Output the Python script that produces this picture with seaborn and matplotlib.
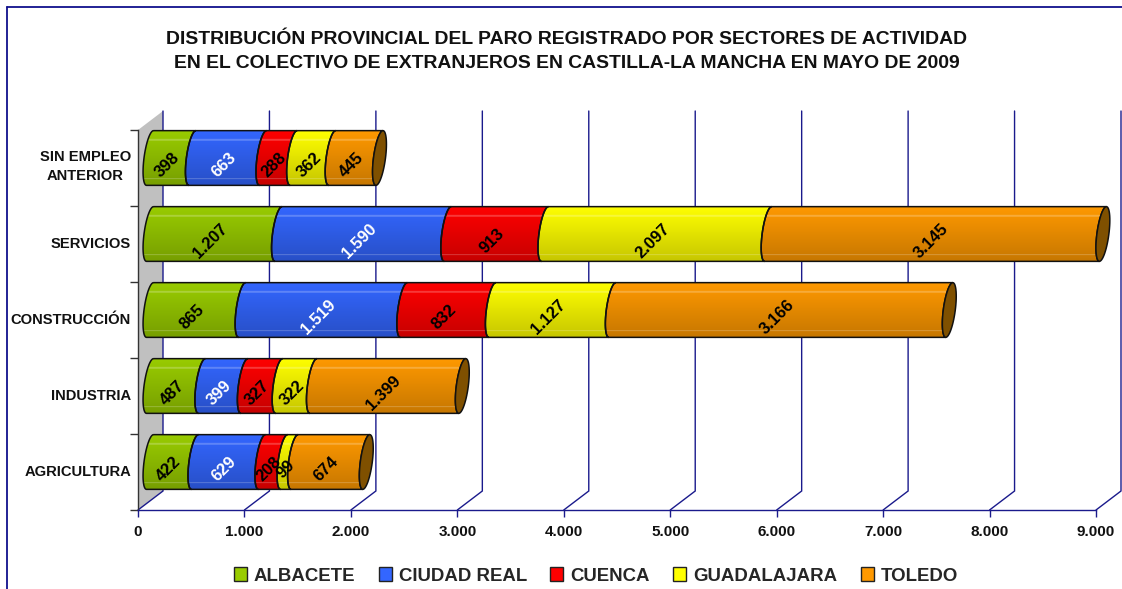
import numpy as np
import pandas as pd
import matplotlib
matplotlib.use("Agg")
import matplotlib.pyplot as plt
from matplotlib.lines import Line2D
from matplotlib.patches import Patch, PathPatch, Polygon
from matplotlib.path import Path
from matplotlib.colors import to_rgb
from matplotlib.ticker import FuncFormatter
import seaborn as sns

categories = ["SIN EMPLEO\nANTERIOR", "SERVICIOS", "CONSTRUCCIÓN", "INDUSTRIA", "AGRICULTURA"]
albacete = [398, 1207, 865, 487, 422]
ciudad_real = [663, 1590, 1519, 399, 629]
cuenca = [288, 913, 832, 327, 208]
guadalajara = [362, 2097, 1127, 322, 99]
toledo = [445, 3145, 3166, 1399, 674]
series_names = ["ALBACETE", "CIUDAD REAL", "CUENCA", "GUADALAJARA", "TOLEDO"]
series_values = [albacete, ciudad_real, cuenca, guadalajara, toledo]
colors = ["#99CC00", "#3366FF", "#FF0000", "#FFFF00", "#FF9900"]
label_colors = ["black", "white", "black", "black", "black"]
title = ("DISTRIBUCIÓN PROVINCIAL DEL PARO REGISTRADO POR SECTORES DE ACTIVIDAD\n"
         "EN EL COLECTIVO DE EXTRANJEROS EN CASTILLA-LA MANCHA EN MAYO DE 2009")

W, H = 1122, 589
sns.set_theme(style="white")
plt.rcParams["font.family"] = ["Liberation Sans", "DejaVu Sans"]
plt.rcParams["font.weight"] = "bold"
fig = plt.figure(figsize=(W / 100, H / 100), dpi=100, facecolor="white")
ax = fig.add_axes([138 / W, 1 - 510 / H, 958 / W, 380 / H], facecolor="none")

NAVY = "#1a1a8c"
PX_X = 958 / 9000
PX_Y = 76.0
DEPTH_X, DEPTH_Y = 25 / PX_X, -19 / PX_Y
BAR_DX, BAR_DY = 12 / PX_X, -10 / PX_Y
ELL_A, ELL_S = 6 / PX_X, 3.5 / PX_X

# stacked bars through seaborn: cumulative totals, longest first
cum = np.cumsum(np.array(series_values), axis=0)
for i in range(len(series_names) - 1, -1, -1):
    df = pd.DataFrame({"cat": categories, "v": cum[i]})
    sns.barplot(data=df, x="v", y="cat", orient="h", order=categories, color=colors[i],
                width=0.72, ax=ax, saturation=1, legend=False)

ax.set_xlim(0, 9000)
ax.set_ylim(4.5, -0.5)

# wall and wall grid lines
ax.add_patch(Polygon([(0, 4.5), (DEPTH_X, 4.5 + DEPTH_Y), (DEPTH_X, -0.5 + DEPTH_Y), (0, -0.5)],
                     closed=True, fc="#C0C0C0", ec="none", zorder=0.5, clip_on=False))
for v in range(0, 10000, 1000):
    ax.plot([v, v + DEPTH_X, v + DEPTH_X], [4.5, 4.5 + DEPTH_Y, -0.5 + DEPTH_Y], color=NAVY,
            lw=1.0, zorder=0.8, clip_on=False, solid_joinstyle="miter")


def shape(x0, x1, y0, y1, n=30):
    t = np.linspace(0, np.pi, n)
    cy, hh = (y0 + y1) / 2, (y1 - y0) / 2
    lx = x0 - ELL_A * np.sin(t) + ELL_S * np.cos(t)
    ly = cy - hh * np.cos(t)
    rx = x1 - ELL_A * np.sin(t[::-1]) + ELL_S * np.cos(t[::-1])
    ry = cy - hh * np.cos(t[::-1])
    return np.r_[np.c_[lx, ly], np.c_[rx, ry], [[lx[0], ly[0]]]]


def gradient(c):
    rgb = np.array(to_rgb(c))
    rows = np.linspace(1.0, 0.78, 56)[:, None] * rgb
    lift = np.zeros(56)
    lift[[9, 10, 49]] = 0.22
    rows = rows + (1 - rows) * lift[:, None]
    return rows[None, :, :].transpose(1, 0, 2)


containers = list(ax.containers)[::-1]  # back to series order
for s, cont in enumerate(containers):
    for c, bar in enumerate(cont.patches):
        bar.set_visible(False)
        x1 = bar.get_width() + BAR_DX
        x0 = BAR_DX if s == 0 else containers[s - 1].patches[c].get_width() + BAR_DX
        y0 = bar.get_y() + BAR_DY
        y1 = y0 + bar.get_height()
        verts = shape(x0, x1, y0, y1)
        patch = PathPatch(Path(verts), fc="none", ec="#111111", lw=1.1, zorder=3, clip_on=False)
        ax.add_patch(patch)
        im = ax.imshow(gradient(colors[s]), extent=(x0 - 2 * ELL_A, x1 + 2 * ELL_S, y1, y0),
                       aspect="auto", origin="upper", zorder=2.5, interpolation="bilinear")
        im.set_clip_path(patch)
        im.set_clip_box(fig.bbox)
        if s == len(containers) - 1:
            t = np.linspace(0, 2 * np.pi, 60)
            cy, hh = (y0 + y1) / 2, (y1 - y0) / 2
            ex = x1 - ELL_A * np.sin(t) + ELL_S * np.cos(t)
            ey = cy - hh * np.cos(t)
            ax.add_patch(Polygon(np.c_[ex, ey], closed=True, fc="#7F5000", ec="#111111",
                                 lw=1.1, zorder=3.2, clip_on=False))
        value = series_values[s][c]
        ax.text((x0 + x1) / 2 - 4 / PX_X, (y0 + y1) / 2 + 7 / PX_Y, f"{value:,}".replace(",", "."),
                rotation=45, rotation_mode="anchor", ha="center", va="center",
                color=label_colors[s], fontsize=12, fontweight="bold", zorder=5)

ax.set_xlim(0, 9000)
ax.set_ylim(4.5, -0.5)
ax.set_xlabel("")
ax.set_ylabel("")
ax.grid(False)
for side in ("top", "right"):
    ax.spines[side].set_visible(False)
ax.spines["bottom"].set_color(NAVY)
ax.spines["bottom"].set_linewidth(1.0)
ax.spines["left"].set_color("#333333")
ax.spines["left"].set_linewidth(1.0)

ax.set_xticks(np.arange(0, 10000, 1000))
ax.xaxis.set_major_formatter(FuncFormatter(lambda v, _: f"{int(v):,}".replace(",", ".")))
ax.tick_params(axis="x", bottom=True, length=5, width=1, color=NAVY, pad=6, labelsize=11)
ax.set_yticks(np.arange(len(categories)) - np.array([0.07, 0.026, 0.026, 0.026, 0.026]))
ax.set_yticklabels(categories, multialignment="center", linespacing=1.45)
ax.set_yticks(np.arange(-0.5, 5, 1), minor=True)
ax.tick_params(axis="y", which="major", left=False, length=0, pad=5, labelsize=10.6)
ax.tick_params(axis="y", which="minor", left=True, length=6, width=1, color="#333333")
for lab in ax.get_xticklabels() + ax.get_yticklabels():
    lab.set_fontweight("bold")
    lab.set_color("#111111")

fig.text(567 / W, 1 - 51.5 / H, title, ha="center", va="center", fontsize=13.95, fontweight="bold",
         color="#111111", linespacing=1.52)

for xs, ys in (([7, 7], [0, 582]), ([7, W], [582, 582])):
    fig.add_artist(Line2D(np.array(xs) / W, np.array(ys) / H, color="#10108c", lw=1.3,
                          transform=fig.transFigure))

handles = [Patch(fc=c, ec="#222222", lw=1) for c in colors]
fig.legend(handles, series_names, ncol=5, frameon=False, loc="center",
           bbox_to_anchor=(596 / W, 1 - 576 / H), handlelength=0.70, handleheight=0.70,
           handletextpad=0.376, columnspacing=1.26, borderpad=0,
           prop={"weight": "bold", "size": 13.4})

fig.savefig("out.png", dpi=100, facecolor="white")
